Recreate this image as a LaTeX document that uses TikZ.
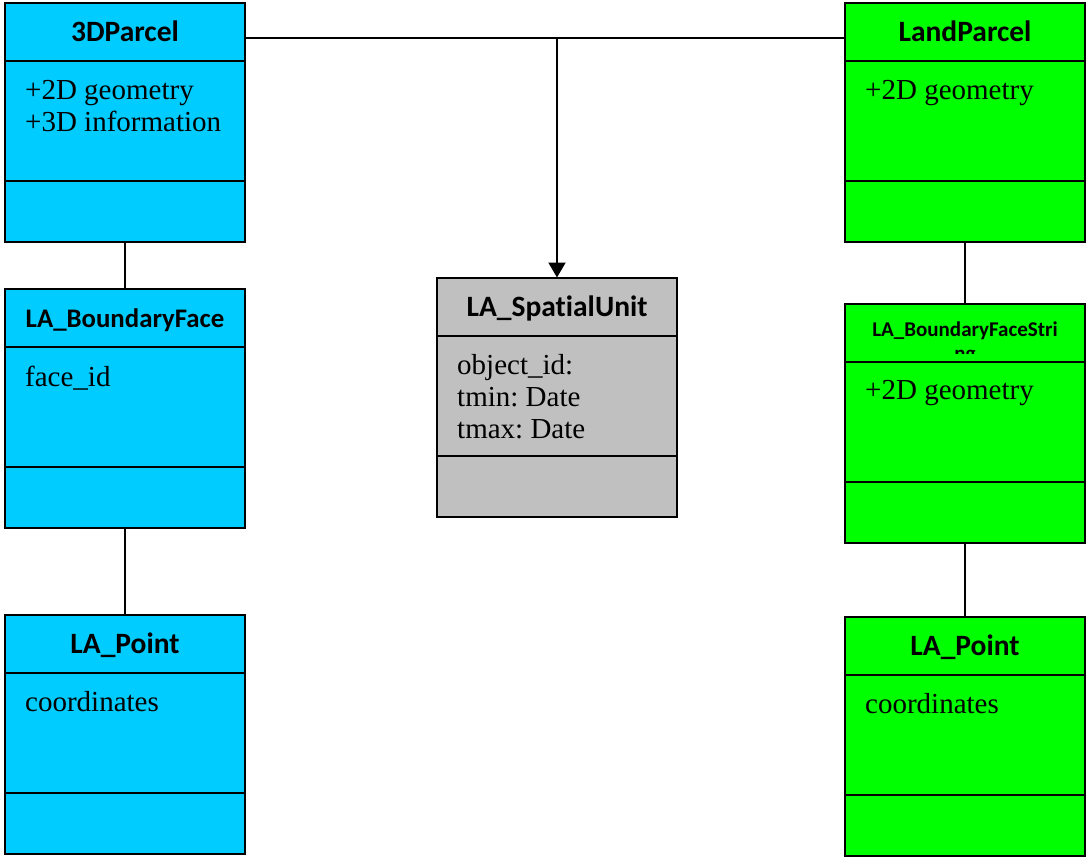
\documentclass[tikz,border=0pt]{standalone}
\usepackage{fontspec}
\setmainfont{Liberation Serif}
\newfontfamily\headfont[Ligatures=NoCommon]{Carlito}
\usetikzlibrary{positioning,arrows.meta}
\definecolor{parcelblue}{HTML}{00CCFF}
\definecolor{parcelgreen}{HTML}{00FF00}
\definecolor{unitgray}{HTML}{C0C0C0}
\frenchspacing
\tikzset{
	classpart/.style={draw, line width=2pt, minimum width=240pt, inner sep=0pt, outer sep=0pt},
	classhead/.style={classpart, minimum height=58pt, text height=19pt, text depth=0pt, font=\headfont\bfseries\fontsize{29.5}{33}\selectfont},
	classattr/.style={classpart, minimum height=120pt},
	classops/.style={classpart, minimum height=61pt},
	attrtext/.style={inner sep=0pt, align=left, anchor=north west, font=\fontsize{29}{32}\selectfont},
	link/.style={line width=2pt}
}
% class box: head, attributes, operations
\newcommand{\umlclass}[6][]{%
	\node[classhead, fill=#4, #1] (#2) at (#3) {#5};
	\node[classattr, fill=#4, below=0pt of #2] (#2-attr) {};
	\node[classops, fill=#4, below=0pt of #2-attr] (#2-ops) {};
	\node[attrtext] (#2-text) at ([xshift=20pt,yshift=-19pt]#2-attr.north west) {#6};
}
\begin{document}
\begin{tikzpicture}[x=1pt,y=-1pt]
	\useasboundingbox (0,0) rectangle (1087,857);
	\umlclass{parcel3d}{125,32}{parcelblue}{3DParcel}{+2D geometry\\+3D information}
	\umlclass[font=\headfont\bfseries\fontsize{26.8}{30}\selectfont]{bface}{125,317.5}{parcelblue}{LA\_BoundaryFace}{face\_id}
	\umlclass{pointL}{125,643.5}{parcelblue}{LA\_Point}{coordinates}
	\umlclass{spatial}{557,306.5}{unitgray}{LA\_SpatialUnit}{object\_id:\\tmin: Date\\tmax: Date}
	\umlclass{landparcel}{965,32}{parcelgreen}{LandParcel}{+2D geometry}
	\umlclass[font=\headfont\bfseries\fontsize{21}{25}\selectfont, text height=8pt]{bfstrip}{965,332.5}{parcelgreen}{LA\_BoundaryFaceStri}{+2D geometry}
	\umlclass{pointR}{965,645.5}{parcelgreen}{LA\_Point}{coordinates}
	% wrapped rest of the name, cut by the box
	\begin{scope}
		\clip (bfstrip.north west) rectangle ([yshift=-50pt]bfstrip.north east);
		\node[anchor=base, inner sep=0pt, font=\headfont\bfseries\fontsize{21}{25}\selectfont] (bfstrip-rest) at (965,360) {ng};
	\end{scope}
	\coordinate (junction) at (557,38);
	\draw[link] (parcel3d.east |- junction) -- (landparcel.west |- junction);
	\draw[link, -{Triangle[width=17pt,length=15pt]}] (junction) -- (spatial.north);
	\draw[link] (parcel3d-ops.south) -- (bface.north);
	\draw[link] (bface-ops.south) -- (pointL.north);
	\draw[link] (landparcel-ops.south) -- (bfstrip.north);
	\draw[link] (bfstrip-ops.south) -- (pointR.north);
\end{tikzpicture}
\end{document}
